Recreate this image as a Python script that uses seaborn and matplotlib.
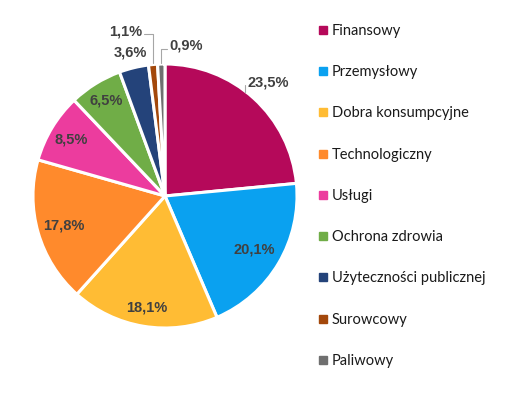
import numpy as np
import matplotlib
matplotlib.use("Agg")
import matplotlib.pyplot as plt
from matplotlib.lines import Line2D
import seaborn as sns

categories = ["Finansowy", "Przemysłowy", "Dobra konsumpcyjne", "Technologiczny",
              "Usługi", "Ochrona zdrowia", "Użyteczności publicznej", "Surowcowy", "Paliwowy"]
values = [23.5, 20.1, 18.1, 17.8, 8.5, 6.5, 3.6, 1.1, 0.9]
labels = ["23,5%", "20,1%", "18,1%", "17,8%", "8,5%", "6,5%", "3,6%", "1,1%", "0,9%"]
colors = ["#B5095A", "#0AA1F0", "#FFBC34", "#FF8A2C", "#EC3C9E",
          "#70AD47", "#24437A", "#A3480B", "#6F6F6F"]

sns.set_theme(style="white")
plt.rcParams["font.family"] = ["Lato", "DejaVu Sans"]

W, H = 505, 401
fig = plt.figure(figsize=(W / 100, H / 100), dpi=100)
ax = fig.add_axes([0, 0, 1, 1])

cx, cy, R = 165, H - 196, 132
palette = sns.color_palette(colors)
wedges, _ = ax.pie(values, colors=palette, startangle=90, counterclock=False,
                   center=(cx, cy), radius=R, explode=[0.012] * len(values),
                   wedgeprops=dict(edgecolor="white", linewidth=2.2))
ax.set_xlim(0, W)
ax.set_ylim(0, H)
ax.set_aspect("equal")
ax.axis("off")

# label radial factors (style)
rfac = [1.16, 0.79, 0.855, 0.80, 0.83, 0.85, 1.12, None, None]
txtcol = "#404040"
lblfont = dict(family=["Liberation Sans", "DejaVu Sans"], weight="bold", size=10.5, color=txtcol)
for w, lab, rf in zip(wedges, labels, rfac):
    ang = np.deg2rad((w.theta1 + w.theta2) / 2)
    if rf is not None:
        x = cx + rf * R * np.cos(ang)
        y = cy + rf * R * np.sin(ang)
        ax.text(x, y, lab, ha="center", va="center", **lblfont)

# leader for 23,5%
w0 = wedges[0]
a0 = np.deg2rad((w0.theta1 + w0.theta2) / 2 + 4)
ax.plot([cx + 1.0 * R * np.cos(a0) - 2, cx + 1.0 * R * np.cos(a0) - 2],
        [cy + 1.0 * R * np.sin(a0), cy + 1.07 * R * np.sin(a0)], color="#A6A6A6", lw=0.8)

# small slices with elbow leaders
for idx, dx, dy, ha in [(7, -9, 29, "right"), (8, 6, 14, "left")]:
    w = wedges[idx]
    ang = np.deg2rad((w.theta1 + w.theta2) / 2)
    ex = cx + R * 1.01 * np.cos(ang)
    ey = cy + R * 1.01 * np.sin(ang)
    ax.plot([ex, ex, ex + dx], [ey, ey + dy, ey + dy], color="#A6A6A6", lw=0.8)
    ax.text(ex + dx + (-2 if ha == "right" else 2), ey + dy + 3, labels[idx],
            ha=ha, va="center", **lblfont)

handles = [Line2D([], [], marker="s", linestyle="none", markersize=5.5,
                  markerfacecolor=c, markeredgecolor=c) for c in colors]
leg = ax.legend(handles, categories, loc="upper left", bbox_to_anchor=(313 / W, 1 - 18 / H),
                bbox_transform=fig.transFigure, frameon=False, fontsize=10.5,
                handlelength=0.6, handletextpad=0.3, labelspacing=1.87, borderaxespad=0)
for t in leg.get_texts():
    t.set_color("#1A1A1A")

fig.savefig("out.png", dpi=100)
